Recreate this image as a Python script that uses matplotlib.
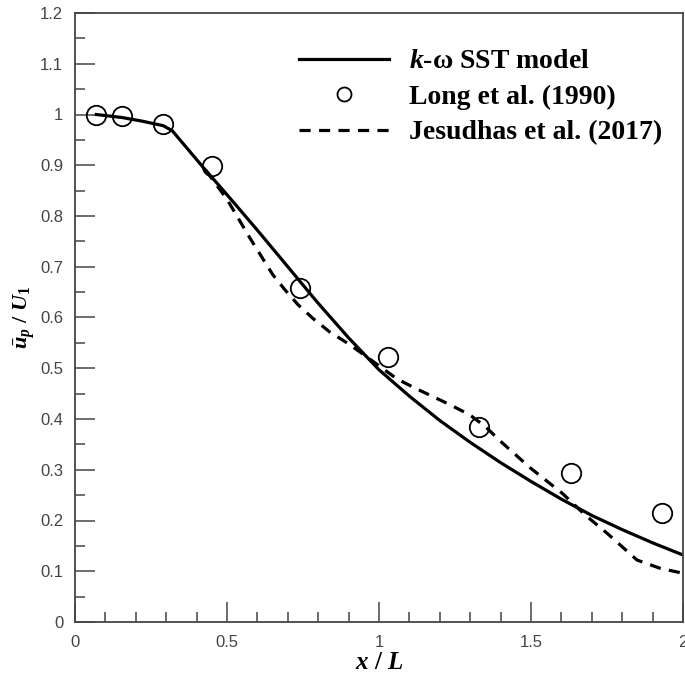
#!/usr/bin/env python3

import numpy as np
import matplotlib.pyplot as plt
from matplotlib.ticker import MultipleLocator, FormatStrFormatter

plt.rcParams['mathtext.fontset'] = 'custom'
plt.rcParams['mathtext.rm'] = 'Liberation Serif:bold'
plt.rcParams['mathtext.it'] = 'Liberation Serif:italic:bold'

# k-omega SST model
sst_x = [0.07, 0.155, 0.22, 0.29, 0.32, 0.42, 0.5, 0.6, 0.7, 0.8, 0.9, 1.0,
         1.1, 1.2, 1.3, 1.4, 1.5, 1.6, 1.7, 1.8, 1.9, 2.0]
sst_y = [1.0, 0.994, 0.987, 0.978, 0.968, 0.897, 0.842, 0.772, 0.70, 0.628,
         0.56, 0.497, 0.445, 0.397, 0.354, 0.314, 0.277, 0.242, 0.21, 0.182,
         0.156, 0.132]

# Long et al. (1990)
long_x = [0.07, 0.155, 0.29, 0.45, 0.74, 1.03, 1.33, 1.63, 1.93]
long_y = [1.0, 0.997, 0.981, 0.899, 0.658, 0.522, 0.384, 0.293, 0.214]

# Jesudhas et al. (2017)
jes_x = [0.43, 0.5, 0.576, 0.651, 0.69, 0.734, 0.783, 0.839, 0.895, 0.961,
         1.059, 1.118, 1.234, 1.299, 1.35, 1.398, 1.497, 1.602, 1.68, 1.75,
         1.849, 1.924, 2.0]
jes_y = [0.89, 0.833, 0.756, 0.684, 0.655, 0.625, 0.598, 0.571, 0.55, 0.522,
         0.479, 0.461, 0.428, 0.408, 0.385, 0.357, 0.304, 0.254, 0.21, 0.175,
         0.122, 0.106, 0.096]


def main():
    fig = plt.figure(figsize=(6.85, 6.78), dpi=100)
    ax = fig.add_axes([75 / 685, (678 - 622) / 678, 608 / 685, 609 / 678])

    ax.plot(sst_x, sst_y, color='black', lw=2.3, label=r'$k$-ω SST model')
    ax.plot(long_x, long_y, 'o', ms=14, mfc='none', mec='black', mew=1.3,
            label='Long et al. (1990)')
    ax.plot(jes_x, jes_y, color='black', lw=2.3, ls=(0, (3.5, 2.6)),
            label='Jesudhas et al. (2017)')

    ax.set_xlim(0, 2)
    ax.set_ylim(0, 1.2)
    ax.xaxis.set_major_locator(MultipleLocator(0.5))
    ax.xaxis.set_minor_locator(MultipleLocator(0.1))
    ax.yaxis.set_major_locator(MultipleLocator(0.1))
    ax.yaxis.set_minor_locator(MultipleLocator(0.05))
    ax.xaxis.set_major_formatter(FormatStrFormatter('%g'))
    ax.yaxis.set_major_formatter(FormatStrFormatter('%g'))

    ax.tick_params(which='both', direction='in', colors='#444444',
                   labelcolor='#444444', labelsize=12, width=1.1)
    ax.tick_params(which='major', length=14.5)
    ax.tick_params(which='minor', length=7.5)
    ax.tick_params(axis='x', which='major', pad=9.5)
    ax.tick_params(axis='y', which='major', pad=8.5)
    for lab in ax.get_xticklabels() + ax.get_yticklabels():
        lab.set_family(['Liberation Sans', 'DejaVu Sans'])
    for sp in ax.spines.values():
        sp.set_color('#444444')
        sp.set_linewidth(1.3)

    ax.set_xlabel(r'$x\ /\ L$', fontsize=18, labelpad=0)
    ax.set_ylabel(r'$\bar{u}_p\ /\ U_1$', fontsize=16, labelpad=2)
    ax.yaxis.set_label_coords(-0.062, 0.5)

    ax.legend(loc='upper left', bbox_to_anchor=(285 / 685, 1 - 35 / 678),
              bbox_transform=fig.transFigure, frameon=False,
              borderpad=0, handlelength=3.25, handletextpad=0.72,
              labelspacing=0.36, markerscale=0.72,
              prop={'family': 'Liberation Serif', 'weight': 'bold',
                    'size': 20})

    fig.savefig('out.png', dpi=100)


if __name__ == "__main__":
    main()
